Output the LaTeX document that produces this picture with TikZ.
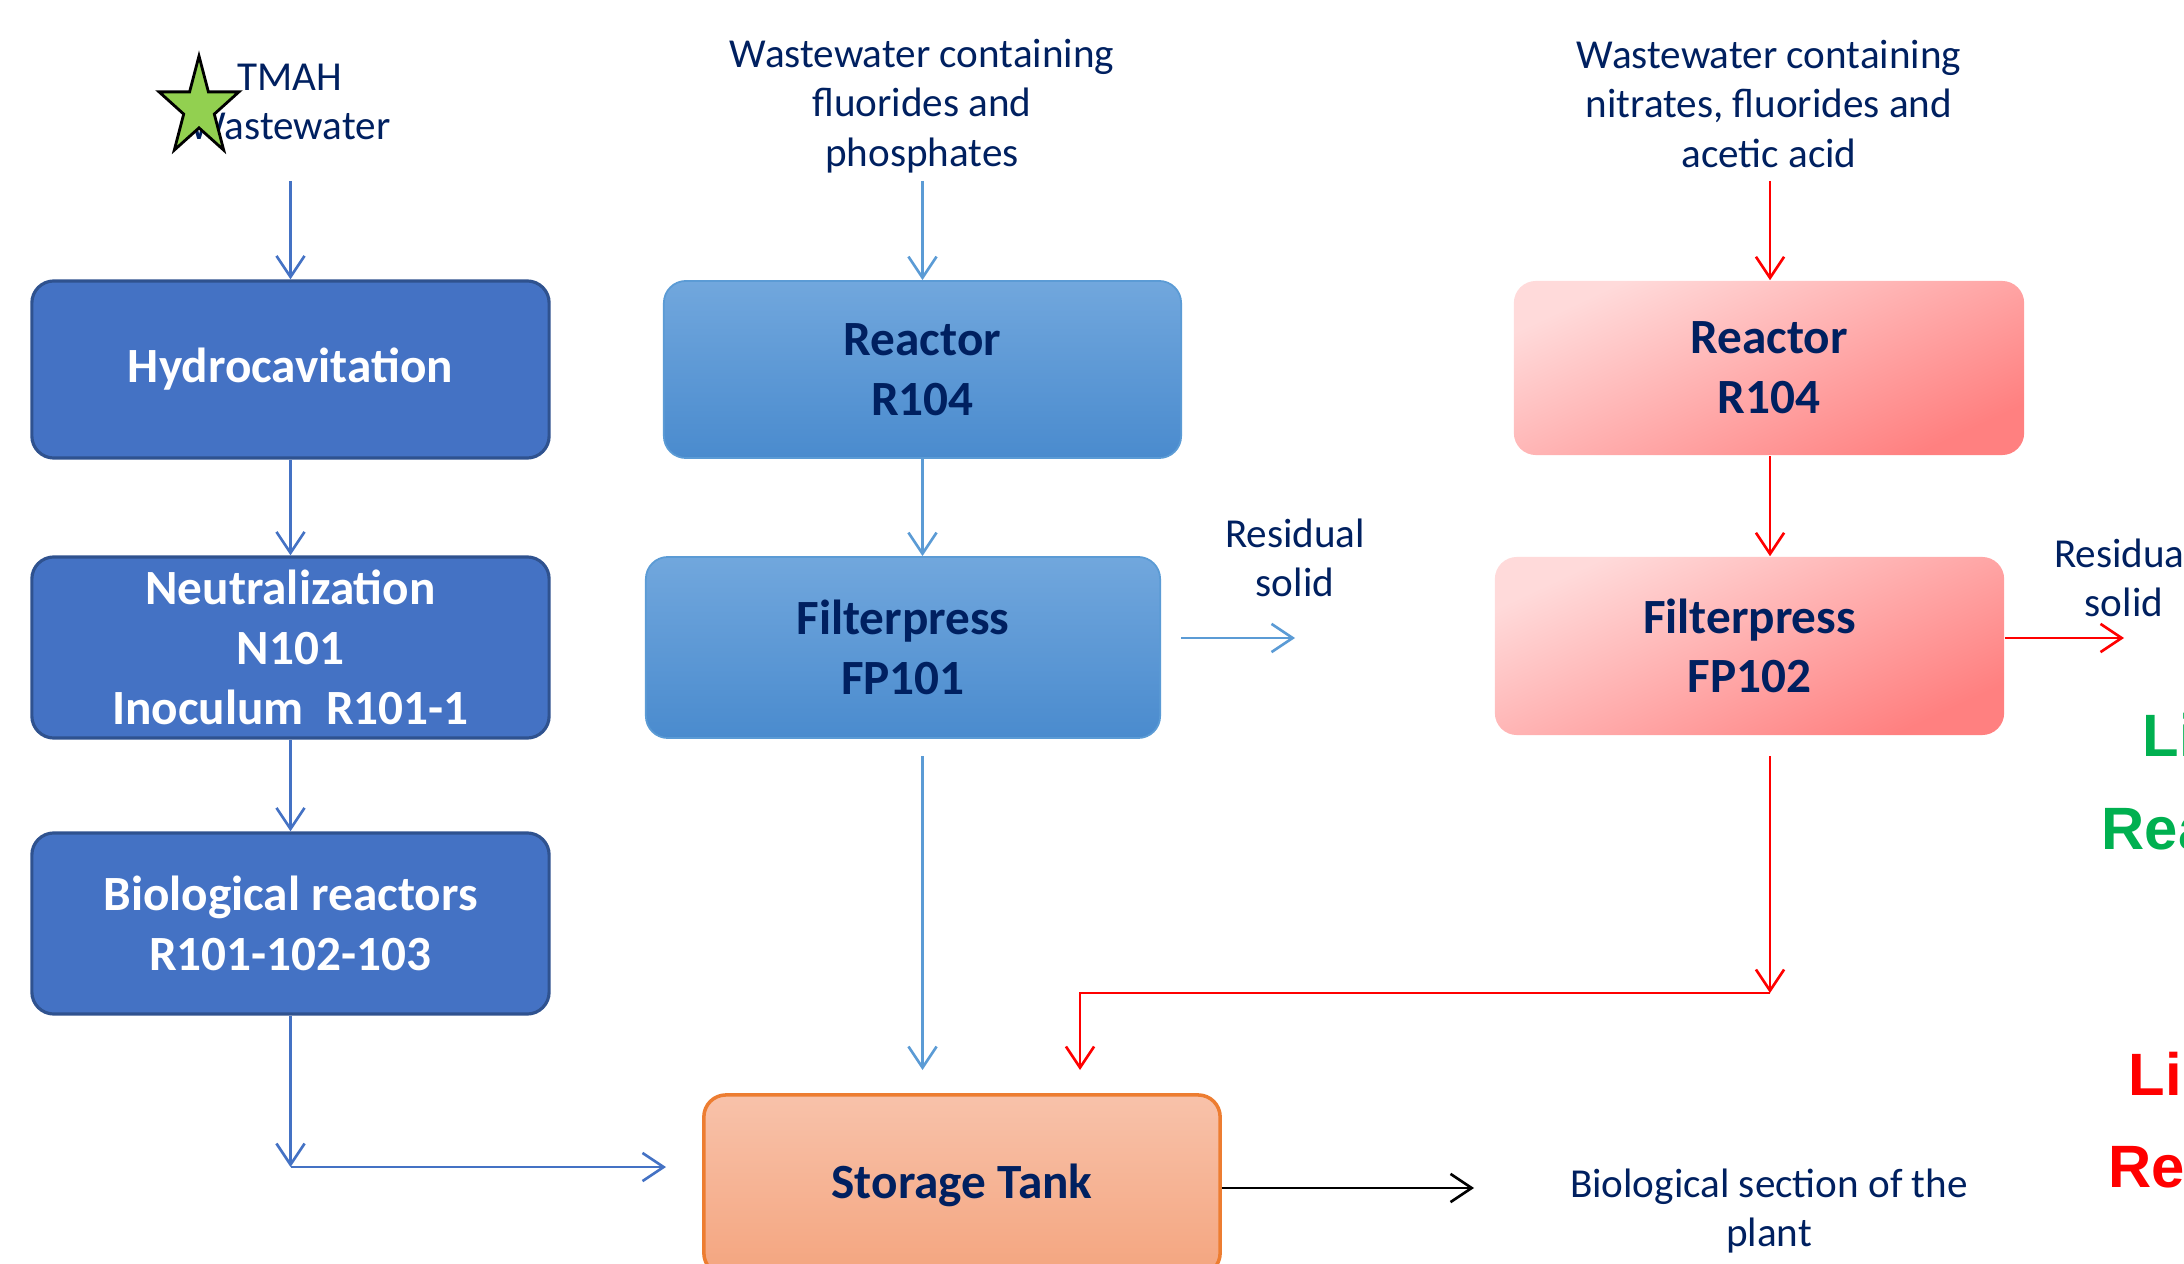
\documentclass[tikz,border=0pt]{standalone}
\usepackage{fontspec}
\setmainfont{Carlito}
\newfontfamily\arialfont{Liberation Sans}
\usetikzlibrary{arrows.meta}
\definecolor{navy}{HTML}{002060}
\definecolor{dkfill}{HTML}{4472C4}
\definecolor{dkdraw}{HTML}{2F528F}
\definecolor{bltop}{HTML}{71A7DD}
\definecolor{blbot}{HTML}{4A8BCE}
\definecolor{bldraw}{HTML}{5B9BD5}
\definecolor{pktop}{HTML}{FFDADA}
\definecolor{pkbot}{HTML}{FF8080}
\definecolor{tktop}{HTML}{F8C2AA}
\definecolor{tkbot}{HTML}{F4A57F}
\definecolor{tkdraw}{HTML}{ED7D31}
\definecolor{aleft}{HTML}{4472C4}
\definecolor{amid}{HTML}{5B9BD5}
\definecolor{ared}{HTML}{FF0000}
\definecolor{stargreen}{HTML}{92D050}
\definecolor{gtxt}{HTML}{00B050}
\newcommand\bxfont{\fontsize{14}{17}\selectfont\bfseries}
\newcommand\lbfont{\fontsize{11.7}{14.1}\selectfont}
\newcommand\bigfont{\arialfont\bfseries\fontsize{17}{20}\selectfont}
\begin{document}
\begin{tikzpicture}[x=0.01cm,y=-0.01cm,
  box/.style={rounded corners=0.22cm, inner sep=0pt, align=center, font=\bxfont, text=navy},
  darkbox/.style={box, fill=dkfill, draw=dkdraw, line width=0.9pt, text=white, minimum width=5.17cm},
  bluebox/.style={box, top color=bltop, bottom color=blbot, draw=bldraw, line width=0.5pt},
  pinkbox/.style={box, top color=pktop, bottom color=pkbot, shading angle=25},
  tankbox/.style={box, top color=tktop, bottom color=tkbot, draw=tkdraw, line width=1pt},
  lbl/.style={align=center, font=\lbfont, text=navy, inner sep=0pt},
  bigtxt/.style={anchor=base west, inner sep=0pt, font=\bigfont},
  arr/.style={-{Straight Barb[length=6pt,width=8pt]}, line width=0.75pt}]
\useasboundingbox (0,0) rectangle (2184,1264);
\clip (0,0) rectangle (2184,1264);

% labels
\node[lbl] (tmah) at (290,102) {TMAH\\Wastewater};
\draw[black, line width=0.8pt, fill=stargreen]
  (199,56) -- (189.6,91.9) -- (159.1,91.9) -- (183.7,114.1) -- (174.3,150.1)
  -- (199,127.9) -- (223.7,150.1) -- (214.3,114.1) -- (238.9,91.9) -- (208.4,91.9) -- cycle;
\node[lbl] (wf) at (922,106) {Wastewater containing\\fluorides and\\phosphates};
\node[lbl] (wn) at (1769,104) {Wastewater containing\\nitrates, fluorides and\\acetic acid};
\node[lbl] (res1) at (1295,558) {Residual\\solid};
\node[lbl] (res2) at (2124,578) {Residual\\solid};
\node[lbl] (biosec) at (1769,1211) {Biological section of the\\plant};

% boxes
\node[darkbox, minimum height=1.77cm] (hydro) at (290.5,369.5) {Hydrocavitation};
\node[darkbox, minimum height=1.81cm] (neut) at (290.5,647.5) {Neutralization\\N101\\Inoculum\ \ R101-1};
\node[darkbox, minimum height=1.81cm] (bio) at (290.5,923.5) {Biological reactors\\R101-102-103};
\node[bluebox, minimum width=5.17cm, minimum height=1.77cm] (r1) at (922.5,369.5) {Reactor\\R104};
\node[bluebox, minimum width=5.14cm, minimum height=1.81cm] (fp1) at (903,647.5) {Filterpress\\FP101};
\node[pinkbox, minimum width=5.10cm, minimum height=1.74cm] (r2) at (1769,368) {Reactor\\R104};
\node[pinkbox, minimum width=5.09cm, minimum height=1.78cm] (fp2) at (1749.5,646) {Filterpress\\FP102};
\node[tankbox, minimum width=5.16cm, minimum height=1.80cm] (tank) at (962,1185) {Storage Tank};

% cut-off coloured texts
\node[bigtxt, text=gtxt] (g1) at (2142,756) {Li};
\node[bigtxt, text=gtxt] (g2) at (2101,849) {Rea};
\node[bigtxt, text=ared] (rd1) at (2128,1095) {Li};
\node[bigtxt, text=ared] (rd2) at (2108,1187) {Re};

% coordinates
\coordinate (tmahout) at (290.5,181);
\coordinate (bcorner) at (290.5,1167);
\coordinate (bend) at (666,1167);
\coordinate (wfout) at (922.5,181);
\coordinate (fp1d) at (922.5,756);
\coordinate (t1) at (922.5,1070);
\coordinate (rs1a) at (1181,638);
\coordinate (rs1b) at (1295,638);
\coordinate (wnout) at (1770,181);
\coordinate (fp2d) at (1770,756);
\coordinate (rcorner) at (1770,993);
\coordinate (rleft) at (1080,993);
\coordinate (t2) at (1080,1070);
\coordinate (rs2b) at (2124,638);
\coordinate (bsec) at (1474,1188);

% left column
\draw[arr, aleft] (tmahout) -- (hydro.north);
\draw[arr, aleft] (hydro.south) -- (neut.north);
\draw[arr, aleft] (neut.south) -- (bio.north);
\draw[arr, aleft] (bio.south) -- (bcorner);
\draw[arr, aleft] (bcorner) -- (bend);

% middle column
\draw[arr, amid] (wfout) -- (r1.north);
\draw[arr, amid] (r1.south) -- (r1.south |- fp1.north);
\draw[arr, amid] (fp1d) -- (t1);
\draw[arr, amid] (rs1a) -- (rs1b);

% right column
\draw[arr, ared] (wnout) -- (wnout |- r2.north);
\draw[arr, ared] (wnout |- r2.south) -- (wnout |- fp2.north);
\draw[arr, ared] (fp2d) -- (rcorner);
\draw[arr, ared] (rcorner) -- (rleft) -- (t2);
\draw[arr, ared] (fp2.east |- rs2b) -- (rs2b);

% output
\draw[arr, black] (tank.east |- bsec) -- (bsec);
\end{tikzpicture}
\end{document}
